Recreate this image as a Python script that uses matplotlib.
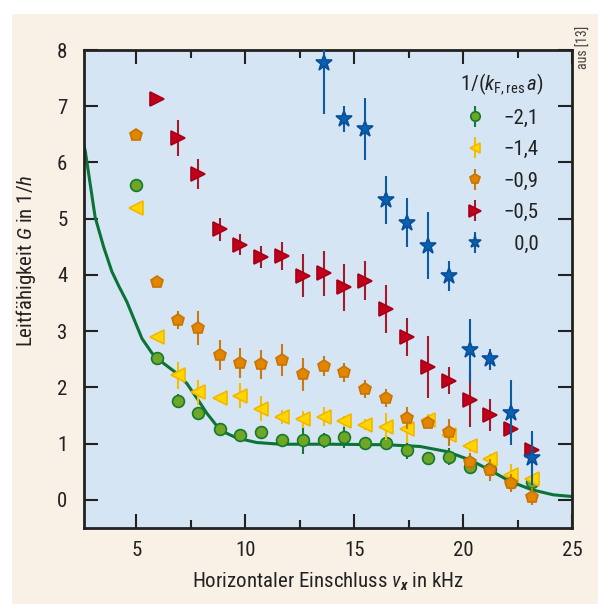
import matplotlib
matplotlib.use('Agg')
import matplotlib.pyplot as plt
from matplotlib import font_manager
from matplotlib.patches import Rectangle
from matplotlib.ticker import MultipleLocator

# pick a narrow font if one is around
installed = {f.name for f in font_manager.fontManager.ttflist}
prefer = ['Liberation Sans Narrow', 'DejaVu Sans Condensed', 'Roboto Condensed',
          'Open Sans Condensed', 'Roboto', 'DejaVu Sans']
main_font = [f for f in prefer if f in installed][0]

plt.rcParams['font.family'] = [main_font, 'DejaVu Sans']
plt.rcParams['mathtext.fontset'] = 'custom'
plt.rcParams['mathtext.rm'] = main_font
plt.rcParams['mathtext.it'] = main_font + ':italic'
plt.rcParams['mathtext.bf'] = main_font + ':bold'
plt.rcParams['mathtext.bfit'] = main_font + ':bold:italic'

# --- data ---
x_all = [5.0, 5.94, 6.91, 7.85, 8.82, 9.78, 10.73, 11.68, 12.64, 13.6,
         14.55, 15.51, 16.48, 17.43, 18.37, 19.34, 20.3, 21.25, 22.21, 23.16]

y_green = [5.6, 2.52, 1.76, 1.54, 1.26, 1.15, 1.20, 1.06, 1.07, 1.06,
           1.11, 1.01, 1.02, 0.88, 0.75, 0.77, 0.59, 0.55, 0.31, 0.32]
e_green = [0, 0, 0.12, 0.05, 0.05, 0.05, 0.05, 0.05, 0.25, 0.13,
           0.19, 0.1, 0.13, 0.16, 0.05, 0.15, 0.1, 0.1, 0.1, 0.1]

y_yellow = [5.19, 2.89, 2.22, 1.91, 1.81, 1.85, 1.62, 1.47, 1.43, 1.48,
            1.40, 1.34, 1.30, 1.26, 1.42, 1.15, 0.95, 0.72, 0.44, 0.37]
e_yellow = [0, 0, 0.24, 0.23, 0.07, 0.22, 0.22, 0.12, 0.15, 0.17,
            0.1, 0.1, 0.24, 0.25, 0.1, 0.1, 0.1, 0.1, 0.2, 0.1]

y_orange = [6.48, 3.88, 3.2, 3.05, 2.58, 2.43, 2.41, 2.49, 2.23, 2.38,
            2.27, 1.97, 1.82, 1.46, 1.37, 1.20, 0.68, 0.53, 0.30, 0.06]
e_orange = [0, 0, 0.16, 0.3, 0.27, 0.27, 0.26, 0.29, 0.29, 0.18,
            0.17, 0.16, 0.16, 0.2, 0.1, 0.24, 0.16, 0.19, 0.16, 0.15]

y_red = [7.12, 6.44, 5.79, 4.81, 4.54, 4.32, 4.33, 3.99, 4.03, 3.78,
         3.9, 3.4, 2.9, 2.36, 2.12, 1.78, 1.51, 1.26, 0.89]
e_red = [0, 0.32, 0.27, 0.21, 0.19, 0.19, 0.25, 0.38, 0.4, 0.42,
         0.35, 0.43, 0.34, 0.55, 0.24, 0.49, 0.28, 0.1, 0.1]

y_blue = [7.76, 6.77, 6.6, 5.33, 4.93, 4.52, 3.98, 2.66, 2.5, 1.55, 0.75]
e_blue = [0.9, 0.23, 0.55, 0.43, 0.44, 0.6, 0.26, 0.56, 0.19, 0.58, 0.48]

# theory curve
x_curve = [2.6, 2.66, 3.11, 3.5, 3.88, 4.2, 4.57, 5.26, 5.72, 5.94, 6.86, 7.32,
           7.78, 8.24, 8.85, 9.61, 10.53, 11.6, 13.89, 16.5, 18.02, 19.25,
           20.32, 21.23, 22.15, 23.16, 24.14, 25.0]
y_curve = [6.3, 6.2, 5.03, 4.5, 4.06, 3.8, 3.52, 2.87, 2.61, 2.52, 2.25, 2.07,
           1.81, 1.54, 1.24, 1.10, 1.02, 0.99, 0.99, 0.98, 0.95, 0.86,
           0.71, 0.53, 0.33, 0.18, 0.09, 0.06]

labels = ['\u22122,1', '\u22121,4', '\u22120,9', '\u22120,5', '\u20070,0']

fig = plt.figure(figsize=(6.06, 6.04), dpi=100, facecolor='white')
fig.patches.append(Rectangle((12 / 606, 0), 586 / 606, 590 / 604,
                             transform=fig.transFigure, facecolor='#f9f0e6',
                             edgecolor='none', zorder=-10))

ax = fig.add_axes([84 / 606, 1 - 528 / 604, 488 / 606, 478 / 604])
ax.set_facecolor('#d5e5f3')

ax.plot(x_curve, y_curve, color='#0b7336', lw=2.2, zorder=2)

series = [
    (x_all, y_green, e_green, 'o', '#6fa625', '#167a2e', '#167a2e', 8.5),
    (x_all, y_yellow, e_yellow, '<', '#ffd600', '#f3b700', '#f3c000', 9.5),
    (x_all, y_orange, e_orange, 'p', '#e08600', '#c97400', '#c97a10', 9),
    (x_all[1:], y_red, e_red, '>', '#c1001a', '#a50018', '#a51a2a', 10),
    (x_all[9:], y_blue, e_blue, '*', '#0862b0', '#0a4f9a', '#0a5aa5', 12),
]
handles = []
for i, (xs, ys, es, m, fc, ec, errc, ms) in enumerate(series):
    h = ax.errorbar(xs, ys, yerr=es, fmt=m, ms=ms, mfc=fc, mec=ec, mew=1.2,
                    ecolor=errc, elinewidth=1.5, capsize=0, zorder=3 + i)
    handles.append(h)

ax.set_xlim(2.6, 25)
ax.set_ylim(-0.5, 8)
ax.xaxis.set_major_locator(MultipleLocator(5))
ax.xaxis.set_minor_locator(MultipleLocator(2.5))
ax.yaxis.set_major_locator(MultipleLocator(1))
ax.tick_params(axis='both', which='major', direction='in', length=10, width=1.5,
               color='#222222', labelsize=15, labelcolor='#222222')
ax.tick_params(axis='x', which='major', top=True, pad=9)
ax.tick_params(axis='x', which='minor', direction='in', length=6, width=1.5,
               color='#222222', top=True)
ax.tick_params(axis='y', which='major', right=True, pad=12)
for s in ax.spines.values():
    s.set_linewidth(2)
    s.set_color('#222222')

ax.set_xlabel(r'Horizontaler Einschluss $v_{\mathbfit{x}}$ in kHz', fontsize=15,
              color='#222222', labelpad=8)
ax.set_ylabel(r'Leitfähigkeit $G$ in 1/$h$', fontsize=15, color='#222222')
ax.yaxis.set_label_coords(-0.095, 0.56)

leg = ax.legend(handles, labels, title=r'1/($k_{\mathrm{F,res}}\,a$)',
                loc='upper right', bbox_to_anchor=(0.98, 0.995), frameon=False,
                fontsize=15, title_fontsize=15, markerscale=0.8,
                handlelength=1.0, handletextpad=0.9, labelspacing=0.6)
for t in leg.get_texts():
    t.set_color('#222222')
leg.get_title().set_color('#222222')

fig.text(584 / 606, 1 - 47 / 604, 'aus [13]', rotation=90, fontsize=10,
         color='#444444', ha='center', va='center')

fig.savefig('out.png', dpi=100, facecolor=fig.get_facecolor())
